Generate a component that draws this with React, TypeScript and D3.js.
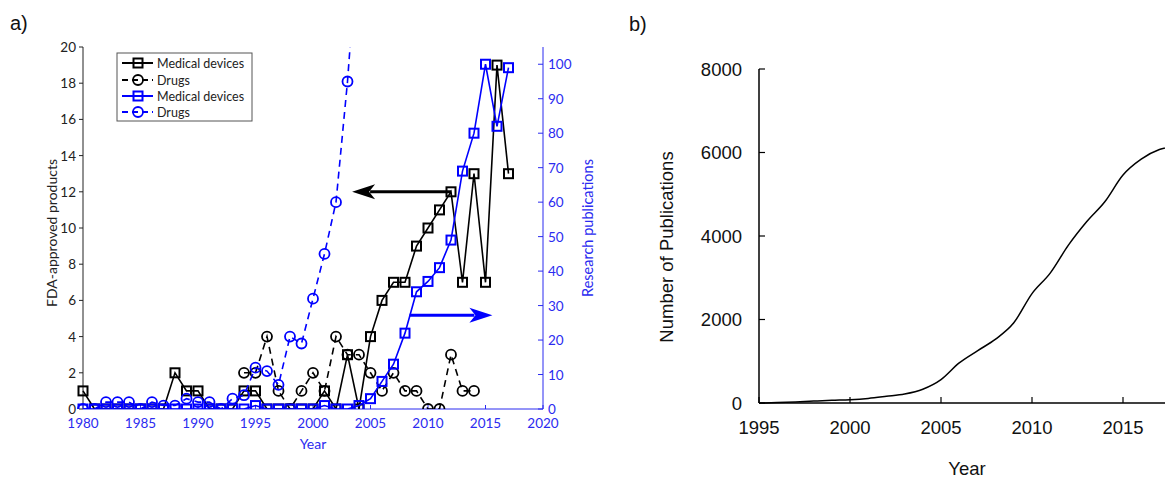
import React from 'react';
import * as d3 from 'd3';

// ---------- Panel a) data ----------
const yearsA: number[] = [1980,1981,1982,1983,1984,1985,1986,1987,1988,1989,1990,1991,1992,1993,1994,1995,1996,1997,1998,1999,2000,2001,2002,2003,2004,2005,2006,2007,2008,2009,2010,2011,2012,2013,2014,2015,2016,2017];
const fdaDevices: number[] = [1,0,0,0,0,0,0,0,2,1,1,0,0,0,1,1,0,0,0,0,0,1,0,3,0,4,6,7,7,9,10,11,12,7,13,7,19,13];
const drugYears: number[] = [1994,1995,1996,1997,1998,1999,2000,2001,2002,2003,2004,2005,2006,2007,2008,2009,2010,2011,2012,2013,2014];
const fdaDrugs: number[] = [2,2,4,1,0,1,2,1,4,3,3,2,1,2,1,1,0,0,3,1,1];
const pubDevices: number[] = [0,0,0,0,0,0,0,0,0,0,0,0,0,0,0,1,0,0,0,0,0,1,0,0,1,3,8,13,22,34,37,41,49,69,80,100,82,99];
const pubDrugYears: number[] = [1980,1981,1982,1983,1984,1985,1986,1987,1988,1989,1990,1991,1992,1993,1994,1995,1996,1997,1998,1999,2000,2001,2002,2003,2004];
const pubDrugs: number[] = [0,0,2,2,2,0,2,1,1,3,2,2,0,3,4,12,11,7,21,19,32,45,60,95,140];

const leftTicks: number[] = [0,2,4,6,8,10,12,14,16,18,20];
const rightTicks: number[] = [0,10,20,30,40,50,60,70,80,90,100];
const yearTicksA: number[] = [1980,1985,1990,1995,2000,2005,2010,2015,2020];
const legendLabels: string[] = ['Medical devices','Drugs','Medical devices','Drugs'];

// ---------- Panel b) data ----------
const yearsB: number[] = [1995,1996,1997,1998,1999,2000,2001,2002,2003,2004,2005,2006,2007,2008,2009,2010,2011,2012,2013,2014,2015,2016,2017,2018];
const pubsB: number[] = [0,10,25,45,65,80,110,160,215,330,560,960,1250,1530,1920,2620,3110,3780,4340,4820,5460,5840,6070,6150];
const yTicksB: number[] = [0,2000,4000,6000,8000];
const xTicksB: number[] = [1995,2000,2005,2010,2015];

const BLUE = '#0000ff';
const AXBLUE = '#2b2bf0';
const fontA = 'Lato, "Open Sans", sans-serif';
const fontB = '"Liberation Sans", Arial, sans-serif';

export default function App() {
  const xA = d3.scaleLinear().domain([1980, 2020]).range([83, 543]);
  const yL = d3.scaleLinear().domain([0, 20]).range([409, 47]);
  const yR = d3.scaleLinear().domain([0, 105]).range([409, 47]);

  const xB = d3.scaleLinear().domain([1995, 2020]).range([759, 1214]);
  const yB = d3.scaleLinear().domain([0, 8000]).range([403, 69]);

  const lineL = d3.line<[number, number]>().x(d => xA(d[0])).y(d => yL(d[1]));
  const lineR = d3.line<[number, number]>().x(d => xA(d[0])).y(d => yR(d[1]));
  const lineB = d3.line<[number, number]>().x(d => xB(d[0])).y(d => yB(d[1])).curve(d3.curveMonotoneX);

  const devPts = yearsA.map((y, i) => [y, fdaDevices[i]] as [number, number]);
  const drugPts = drugYears.map((y, i) => [y, fdaDrugs[i]] as [number, number]);
  const pubDevPts = yearsA.map((y, i) => [y, pubDevices[i]] as [number, number]);
  const pubDrugPts = pubDrugYears.map((y, i) => [y, pubDrugs[i]] as [number, number]);
  const bPts = yearsB.map((y, i) => [y, pubsB[i]] as [number, number]);

  const sq = 9;
  const r = 5;

  const square = (x: number, y: number, color: string, key: string) => (
    <rect key={key} x={x - sq / 2} y={y - sq / 2} width={sq} height={sq} fill="none" stroke={color} strokeWidth={2} />
  );
  const circ = (x: number, y: number, color: string, key: string) => (
    <circle key={key} cx={x} cy={y} r={r} fill="none" stroke={color} strokeWidth={1.8} />
  );

  // annotation arrows (data coords)
  const bArrowY = yL(12);
  const bArrowX1 = xA(2012);
  const bArrowTip = xA(2003.4);
  const uArrowY = yR(27.2);
  const uArrowX1 = xA(2008.4);
  const uArrowTip = xA(2015.6);

  // legend
  const legX = 117, legY = 53, legW = 135, legH = 68;
  const legRows = [63, 80, 96, 112];

  return (
    <svg width={1165} height={477} style={{ position: 'absolute', left: 0, top: 0, background: '#fff' }}>
      <defs>
        <clipPath id="clipA">
          <rect x={70} y={47} width={473} height={362} />
        </clipPath>
        <clipPath id="clipB">
          <rect x={759} y={40} width={420} height={364} />
        </clipPath>
      </defs>

      {/* ---------- Panel a ---------- */}
      <text x={10} y={30} fontFamily={fontB} fontSize={20} fill="#111">a)</text>

      {/* left axis */}
      <line x1={83} x2={83} y1={47} y2={409} stroke="#222" strokeWidth={1} />
      {leftTicks.map(t => (
        <g key={'lt' + t}>
          <line x1={79} x2={83} y1={yL(t)} y2={yL(t)} stroke="#222" strokeWidth={1} />
          <text x={76} y={yL(t)} textAnchor="end" dominantBaseline="central" fontFamily={fontA} fontSize={13.5} fill="#222">{t}</text>
        </g>
      ))}
      <text transform={`translate(51,233) rotate(-90)`} textAnchor="middle" dominantBaseline="central" fontFamily={fontA} fontSize={14} fill="#222">FDA-approved products</text>

      {/* right axis */}
      <line x1={543} x2={543} y1={47} y2={409} stroke={AXBLUE} strokeWidth={1} />
      {rightTicks.map(t => (
        <g key={'rt' + t}>
          <line x1={538} x2={543} y1={yR(t)} y2={yR(t)} stroke={AXBLUE} strokeWidth={1} />
          <text x={548} y={yR(t)} textAnchor="start" dominantBaseline="central" fontFamily={fontA} fontSize={13.5} fill={AXBLUE}>{t}</text>
        </g>
      ))}
      <text transform={`translate(587,228) rotate(-90)`} textAnchor="middle" dominantBaseline="central" fontFamily={fontA} fontSize={14.5} fill={AXBLUE}>Research publications</text>

      {/* bottom axis */}
      <line x1={83} x2={543} y1={409} y2={409} stroke={AXBLUE} strokeWidth={1} />
      {yearTicksA.map(t => (
        <g key={'bt' + t}>
          <line x1={xA(t)} x2={xA(t)} y1={405} y2={409} stroke={AXBLUE} strokeWidth={1} />
          <text x={xA(t)} y={423} textAnchor="middle" dominantBaseline="central" fontFamily={fontA} fontSize={13.5} fill={AXBLUE}>{t}</text>
        </g>
      ))}
      <text x={313} y={443} textAnchor="middle" dominantBaseline="central" fontFamily={fontA} fontSize={14} fill={AXBLUE}>Year</text>

      {/* series */}
      <g clipPath="url(#clipA)">
        <path d={lineL(devPts) || ''} fill="none" stroke="#000" strokeWidth={1.6} />
        {devPts.map((d, i) => square(xA(d[0]), yL(d[1]), '#000', 'ds' + i))}
        <path d={lineL(drugPts) || ''} fill="none" stroke="#000" strokeWidth={1.6} strokeDasharray="7,5" />
        {drugPts.map((d, i) => circ(xA(d[0]), yL(d[1]), '#000', 'dc' + i))}
        <path d={lineR(pubDevPts) || ''} fill="none" stroke={BLUE} strokeWidth={1.6} />
        {pubDevPts.map((d, i) => square(xA(d[0]), yR(d[1]), BLUE, 'ps' + i))}
        <path d={lineR(pubDrugPts) || ''} fill="none" stroke={BLUE} strokeWidth={1.6} strokeDasharray="7,5" />
        {pubDrugPts.map((d, i) => circ(xA(d[0]), yR(d[1]), BLUE, 'pc' + i))}
      </g>

      {/* arrows */}
      <line x1={bArrowX1} x2={bArrowTip + 18} y1={bArrowY} y2={bArrowY} stroke="#000" strokeWidth={3} />
      <path d={`M${bArrowTip},${bArrowY} L${bArrowTip + 23},${bArrowY - 7.5} L${bArrowTip + 17},${bArrowY} L${bArrowTip + 23},${bArrowY + 7.5} Z`} fill="#000" />
      <line x1={uArrowX1} x2={uArrowTip - 18} y1={uArrowY} y2={uArrowY} stroke={BLUE} strokeWidth={3} />
      <path d={`M${uArrowTip},${uArrowY} L${uArrowTip - 23},${uArrowY - 7.5} L${uArrowTip - 17},${uArrowY} L${uArrowTip - 23},${uArrowY + 7.5} Z`} fill={BLUE} />

      {/* legend */}
      <rect x={legX} y={legY} width={legW} height={legH} fill="#fff" stroke="#555" strokeWidth={1} />
      {legendLabels.map((lab, i) => {
        const color = i < 2 ? '#000' : BLUE;
        const y = legRows[i];
        const isSq = i % 2 === 0;
        return (
          <g key={'lg' + i}>
            <line x1={122} x2={153} y1={y} y2={y} stroke={color} strokeWidth={2} strokeDasharray={isSq ? undefined : '6,4'} />
            {isSq ? square(138, y, color, 'lgs' + i) : circ(138, y, color, 'lgc' + i)}
            <text x={157} y={y} dominantBaseline="central" fontFamily={fontA} fontSize={12.5} fill="#222">{lab}</text>
          </g>
        );
      })}

      {/* ---------- Panel b ---------- */}
      <text x={629} y={31} fontFamily={fontB} fontSize={20} fill="#111">b)</text>
      <line x1={759} x2={759} y1={69} y2={403} stroke="#000" strokeWidth={1.5} />
      <line x1={759} x2={1165} y1={403} y2={403} stroke="#000" strokeWidth={1.5} />
      {yTicksB.map(t => (
        <g key={'yb' + t}>
          <line x1={759} x2={765} y1={yB(t)} y2={yB(t)} stroke="#000" strokeWidth={1.2} />
          <text x={742} y={yB(t)} textAnchor="end" dominantBaseline="central" fontFamily={fontB} fontSize={18.5} fill="#111">{t}</text>
        </g>
      ))}
      {xTicksB.map(t => (
        <g key={'xb' + t}>
          <line x1={xB(t)} x2={xB(t)} y1={397} y2={403} stroke="#000" strokeWidth={1.2} />
          <text x={xB(t)} y={427} textAnchor="middle" dominantBaseline="central" fontFamily={fontB} fontSize={18.5} fill="#111">{t}</text>
        </g>
      ))}
      <text x={967} y={468} textAnchor="middle" dominantBaseline="central" fontFamily={fontB} fontSize={18.5} fill="#111">Year</text>
      <text transform={`translate(666,247) rotate(-90)`} textAnchor="middle" dominantBaseline="central" fontFamily={fontB} fontSize={18.5} fill="#111">Number of Publications</text>
      <g clipPath="url(#clipB)">
        <path d={lineB(bPts) || ''} fill="none" stroke="#000" strokeWidth={1.5} />
      </g>
    </svg>
  );
}
